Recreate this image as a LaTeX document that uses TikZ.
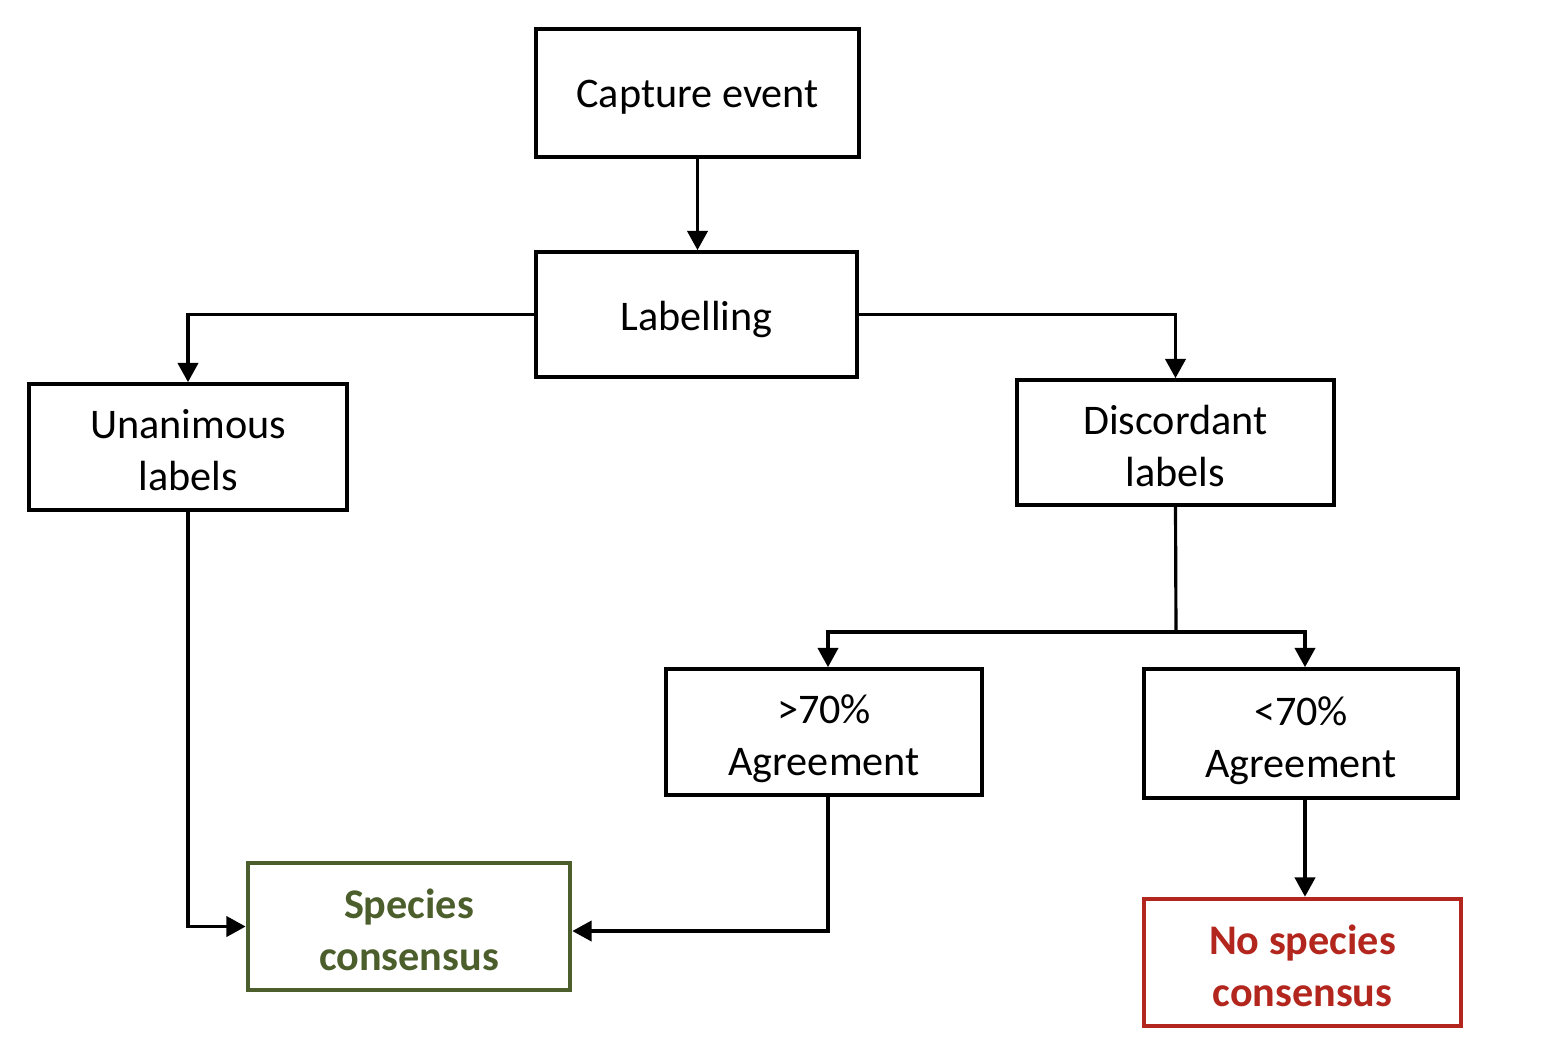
\documentclass[tikz,border=0pt]{standalone}
\usepackage{fontspec}
\setmainfont{Carlito}
\usetikzlibrary{arrows.meta}
\definecolor{okgreen}{HTML}{4B5E2B}
\definecolor{nored}{HTML}{B3261E}
\newcommand{\lowtxt}[2][-1.1pt]{\raisebox{#1}[\height][\depth]{\begin{tabular}{@{}c@{}}#2\end{tabular}}}
\tikzset{
  box/.style={draw=black, line width=1.05pt, fill=white, align=center,
    font=\fontsize{12pt}{14.8pt}\selectfont, inner sep=0pt},
  goodbox/.style={box, draw=okgreen, line width=1.3pt, text=okgreen, font=\fontsize{12pt}{14.8pt}\selectfont\bfseries},
  badbox/.style={box, draw=nored, line width=1.3pt, text=nored, font=\fontsize{12pt}{14.8pt}\selectfont\bfseries},
  conn/.style={draw=black, line width=0.9pt, -{Triangle[length=5.5pt,width=5.8pt]}},
  plain/.style={draw=black, line width=0.9pt}
}
\begin{document}
\begin{tikzpicture}[x=0.01cm, y=-0.01cm]
\useasboundingbox (0,0) rectangle (1566,1056);
\node[box, minimum width=3.23cm, minimum height=1.28cm] (cap) at (697.5,93) {\lowtxt{Capture event}};
\node[box, minimum width=3.21cm, minimum height=1.25cm] (lab) at (696.5,314.5) {\lowtxt[-1.5pt]{Labelling}};
\node[box, minimum width=3.18cm, minimum height=1.26cm] (una) at (188,447) {\lowtxt[-2.1pt]{Unanimous\\labels}};
\node[box, minimum width=3.17cm, minimum height=1.25cm] (dis) at (1175.5,442.5) {\lowtxt[-2.1pt]{Discordant\\labels}};
\node[box, minimum width=3.16cm, minimum height=1.26cm] (gt) at (824,732) {\lowtxt[-2.1pt]{>70\%\\Agreement}};
\node[box, minimum width=3.14cm, minimum height=1.29cm] (lt) at (1301,733.5) {\lowtxt[-2.1pt]{<70\%\\Agreement}};
\node[goodbox, minimum width=3.22cm, minimum height=1.27cm] (sc) at (409,926.5) {\lowtxt[-2.2pt]{Species\\consensus}};
\node[badbox, minimum width=3.17cm, minimum height=1.27cm] (nsc) at (1302.5,962.5) {\lowtxt[-2.2pt]{No species\\consensus}};

\coordinate (split) at (1176,632);
\coordinate (gtk) at (828,632);
\coordinate (ltk) at (1305,632);

\draw[conn] (cap.south) -- (cap.south |- lab.north);
\draw[conn] (lab.west) -| (una.north);
\draw[conn] (lab.east) -| (dis.north);
\draw[plain] (dis.south) -- (split);
\draw[conn] (split) -- (gtk) -- (gtk |- gt.north);
\draw[conn] (split) -- (ltk) -- (ltk |- lt.north);
\draw[conn] (una.south) |- (sc.west);
\draw[conn] (gt.south -| gtk) |- (sc.east |- 0,931);
\draw[conn] (lt.south -| ltk) -- (ltk |- nsc.north);
\end{tikzpicture}
\end{document}
